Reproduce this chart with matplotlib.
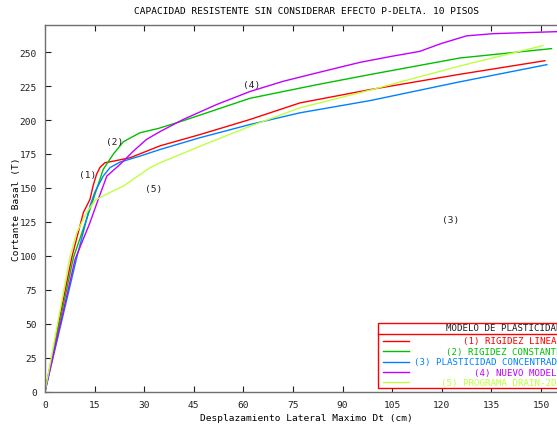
import matplotlib
matplotlib.use('Agg')
import matplotlib.pyplot as plt
from matplotlib.lines import Line2D
from matplotlib.patches import Rectangle

plt.rcParams['font.family'] = ['DejaVu Sans Mono']

# (1) rigidez lineal
x1 = [0, 8.1, 11.6, 13.6, 14.6, 15.6, 16.6, 18.1, 20.7, 25.7, 30.7, 34.8, 46.9, 62, 77.1, 98.3, 125, 151.2]
y1 = [0, 98.7, 131.8, 141.5, 152, 160, 165, 168.5, 169.7, 172.2, 177, 181, 189.3, 200.4, 212.6, 222.4, 233.5, 243.7]
# (2) rigidez constante
x2 = [0, 8.6, 13.6, 14.6, 17.6, 20.7, 23.7, 28.7, 34.3, 41.8, 62, 82.2, 98.3, 125.5, 153.2]
y2 = [0, 98.7, 134.2, 141.5, 163.6, 175, 184, 190.6, 193.8, 199.5, 216, 226, 233.5, 245.7, 252.6]
# (3) plasticidad concentrada
x3 = [0, 9.6, 13.6, 15.1, 16.6, 17.6, 19.7, 22.7, 28.7, 34.8, 46.9, 62, 77.1, 98.3, 125, 151.8]
y3 = [0, 98.7, 136.6, 147, 154, 158.7, 165, 169, 173.4, 178.3, 187, 196.7, 205.3, 214.3, 227.9, 240.8]
# (4) nuevo modelo
x4 = [0, 9.1, 13.6, 16.1, 18.7, 22.7, 26.7, 30.7, 34.8, 41.8, 51.9, 62, 72, 82.2, 95.3, 105, 113.4, 119.4, 127.5, 135.5, 160]
y4 = [0, 97.4, 124.4, 141.5, 158.7, 167.3, 177, 185.7, 191.5, 200.4, 211.4, 221, 228.5, 234.7, 242.5, 247, 250.6, 256, 262, 263.6, 265.5]
# (5) programa drain-2dx
x5 = [0, 7.6, 9.6, 12.6, 15.2, 19.5, 23.7, 27.7, 31.7, 34.8, 46.9, 62, 77.1, 98.3, 125, 150.6]
y5 = [0, 99.9, 117, 131.8, 141, 146.5, 151.3, 158, 164.8, 168.5, 180.7, 195.4, 209, 222, 239.5, 254.8]

series = [
    (x1, y1, '#ff0000', '(1) RIGIDEZ LINEAL'),
    (x2, y2, '#00c000', '(2) RIGIDEZ CONSTANTE'),
    (x3, y3, '#0080ff', '(3) PLASTICIDAD CONCENTRADA'),
    (x4, y4, '#c000ff', '(4) NUEVO MODELO'),
    (x5, y5, '#c0ff40', '(5) PROGRAMA DRAIN-2DX'),
]

fig = plt.figure(figsize=(5.57, 4.27), dpi=100)
ax = fig.add_axes([45/557, 34.5/427, 529/557, 366.5/427])

for x, y, c, lab in series:
    ax.plot(x, y, color=c, lw=1.0)

ax.set_xlim(0, 160)
ax.set_ylim(0, 270)
ax.set_xticks(range(0, 151, 15))
ax.set_yticks(range(0, 251, 25))
ax.tick_params(direction='in', length=4, width=0.8, top=True, right=True,
               labelsize=6.8, pad=6, colors='#202020')
for s in ax.spines.values():
    s.set_color('#707070')
    s.set_linewidth(1.0)

ax.set_title('CAPACIDAD RESISTENTE SIN CONSIDERAR EFECTO P-DELTA. 10 PISOS',
             fontsize=6.8, x=(306-45)/529, pad=9)
ax.set_xlabel('Desplazamiento Lateral Maximo Dt (cm)', fontsize=6.8)
ax.xaxis.set_label_coords((306-45)/529, -0.06)
ax.set_ylabel('Cortante Basal (T)', fontsize=6.8)
ax.yaxis.set_label_coords(-0.046, 0.5)

# curve tags
tags = [(13, 159.5, '(1)'), (21.2, 184, '(2)'), (122.8, 127, '(3)'),
        (62.6, 226, '(4)'), (33, 149.6, '(5)')]
for tx, ty, t in tags:
    ax.text(tx, ty, t, fontsize=6.8, ha='center', va='center', color='#202020')

# legend box (gnuplot style), partly cut by the right edge as in the original
def fx(px):
    return px / 557
def fy(py):
    return 1 - py / 427

fig.patches.append(Rectangle((fx(378), fy(389)), fx(600) - fx(378), fy(324) - fy(389),
                             transform=fig.transFigure, fill=True, facecolor='white',
                             edgecolor='#ff0000', lw=1.0, zorder=5))
fig.lines.append(Line2D([fx(378), fx(600)], [fy(335), fy(335)], transform=fig.transFigure,
                        color='#ff0000', lw=1.0, zorder=6))
fig.text(fx(562), fy(329), 'MODELO DE PLASTICIDAD', ha='right', va='center',
         fontsize=6.6, color='#202020', zorder=7)
rows = [341.7, 352.3, 362.7, 373.3, 383.3]
for (x, y, c, lab), ry in zip(series, rows):
    fig.lines.append(Line2D([fx(383), fx(409)], [fy(ry), fy(ry)], transform=fig.transFigure,
                            color=c, lw=1.0, zorder=6))
    fig.text(fx(562), fy(ry), lab, ha='right', va='center', fontsize=6.6, color=c, zorder=7)

fig.savefig('out.png', dpi=100)
